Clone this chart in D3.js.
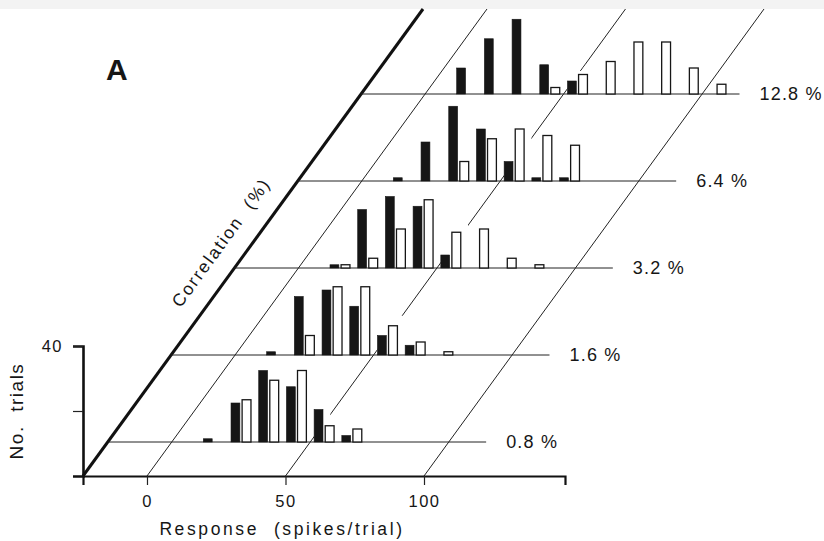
<!DOCTYPE html>
<html>
<head>
<meta charset="utf-8">
<script src="https://cdn.jsdelivr.net/npm/d3@7"></script>
<style>
  html, body { margin: 0; padding: 0; background: #fff; }
  svg { display: block; }
  text { font-family: "Liberation Sans", Arial, Helvetica, sans-serif; fill: #161616; }
</style>
</head>
<body>
<svg id="chart" width="824" height="541"></svg>
<script>
// Spike-count histograms stacked in depth by motion correlation.
// Filled bars: preferred-direction trials; open bars: null-direction trials.

const correlationLabels = ["0.8 %", "1.6 %", "3.2 %", "6.4 %", "12.8 %"];
const binCenters = [15, 25, 35, 45, 55, 65, 75, 85, 95, 105];

// trials per bin, one row per correlation (front to back)
const filledCounts = [
  [1, 12, 22, 17, 10, 2, 0, 0, 0, 0],
  [1, 18, 20, 15, 6, 3, 0, 0, 0, 0],
  [1, 18, 22, 19, 4, 0, 0, 0, 0, 0],
  [1, 12, 23, 16, 6, 1, 1, 0, 0, 0],
  [8, 17, 23, 9, 4, 0, 0, 0, 0, 0]
];
const openCounts = [
  [0, 13, 19, 22, 5, 4, 0, 0, 0, 0],
  [0, 6, 21, 21, 9, 4, 1, 0, 0, 0],
  [1, 3, 12, 21, 11, 12, 3, 1, 0, 0],
  [0, 0, 6, 13, 16, 14, 11, 0, 0, 0],
  [0, 0, 0, 2, 6, 10, 16, 16, 8, 3]
];

const responseTicks = [0, 50, 100];
const countTicks = [20, 40];

const svg = d3.select("#chart");

// faint strip along the top edge of the page
svg.append("rect").attr("x", 0).attr("y", 0).attr("width", 824).attr("height", 9)
  .attr("fill", "#f3f3f3");

// --- geometry -------------------------------------------------------------
const floorY = 476;             // front edge of the floor
const topY = 9;                 // far end of the oblique lines
const shear = 340 / 467;        // horizontal shift per pixel of depth rise
const x = d3.scaleLinear().domain([-23.1, 150.9]).range([83, 565]);
const count = d3.scaleLinear().domain([0, 40]).range([floorY, 346]);
const rise = d3.scaleLinear().domain([0, correlationLabels.length - 1]).range([34, 382]);
const barHeight = v => count(0) - count(v);

const barWidth = 3.2;           // response units
const pairOffset = 2;           // response units from bin centre
const baselineEnd = 113.5;      // response value where each baseline stops
const depthDy = 10, depthDx = depthDy * shear;  // apparent depth of a bar

const px = (v, i) => x(v) + rise(i) * shear;
const baseY = i => floorY - rise(i);

// --- floor grid lines and oblique correlation axis ---------------------------
const grid = svg.append("g");
grid.selectAll("line.grid")
  .data(responseTicks)
  .join("line")
  .attr("class", "grid")
  .attr("x1", d => x(d)).attr("y1", floorY)
  .attr("x2", d => x(d) + (floorY - topY) * shear).attr("y2", topY)
  .attr("stroke", "#222").attr("stroke-width", 1);

grid.append("line")
  .attr("x1", x.range()[0]).attr("y1", floorY)
  .attr("x2", x.range()[0] + (floorY - topY) * shear).attr("y2", topY)
  .attr("stroke", "#111").attr("stroke-width", 3);

// --- histogram panels, drawn back to front ------------------------------------
const panelIdx = d3.range(correlationLabels.length).reverse();

panelIdx.forEach(i => {
  const g = svg.append("g").attr("class", "panel");
  const yb = baseY(i);

  const bars = [];
  binCenters.forEach((c, j) => {
    if (filledCounts[i][j] > 0) bars.push({ v: c - pairOffset, n: filledCounts[i][j], filled: true });
    if (openCounts[i][j] > 0) bars.push({ v: c + pairOffset, n: openCounts[i][j], filled: false });
  });
  bars.forEach(b => {
    b.x0 = px(b.v - barWidth / 2, i);
    b.x1 = px(b.v + barWidth / 2, i);
    b.y = yb - barHeight(b.n);
  });

  // white silhouettes give each bar some depth so the floor lines pass behind it
  g.selectAll("polygon.shadow")
    .data(bars)
    .join("polygon")
    .attr("class", "shadow")
    .attr("points", b => [
      [b.x0, yb], [b.x0, b.y], [b.x0 + depthDx, b.y - depthDy],
      [b.x1 + depthDx, b.y - depthDy], [b.x1 + depthDx, yb - depthDy], [b.x1, yb]
    ].map(p => p.join(",")).join(" "))
    .attr("fill", "#fff");

  // baseline
  g.append("line")
    .attr("x1", x.range()[0] + rise(i) * shear).attr("y1", yb)
    .attr("x2", px(baselineEnd, i)).attr("y2", yb)
    .attr("stroke", "#222").attr("stroke-width", 1);

  // bars
  g.selectAll("rect.bar")
    .data(bars)
    .join("rect")
    .attr("class", "bar")
    .attr("x", b => b.x0)
    .attr("y", b => b.y)
    .attr("width", b => b.x1 - b.x0)
    .attr("height", b => yb - b.y)
    .attr("fill", b => b.filled ? "#161616" : "#fff")
    .attr("stroke", "#161616")
    .attr("stroke-width", b => b.filled ? 0.6 : 1.3);

  // correlation label
  g.append("text")
    .attr("x", px(baselineEnd, i) + 20)
    .attr("y", yb)
    .attr("dy", "0.36em")
    .style("font-size", "18px")
    .attr("letter-spacing", 1.2)
    .text(correlationLabels[i]);
});

// --- axes -----------------------------------------------------------------------
const xAxis = d3.axisBottom(x)
  .tickValues(responseTicks)
  .tickSizeOuter(0)
  .tickSize(9)
  .tickPadding(10);
const gx = svg.append("g").attr("transform", `translate(0,${floorY})`).call(xAxis);
gx.select(".domain").attr("stroke", "#111").attr("stroke-width", 2.2);
gx.selectAll(".tick line").attr("stroke", "#222").attr("stroke-width", 1.2);
gx.selectAll(".tick text")
  .style("font-size", "16.5px").attr("letter-spacing", 1.5).attr("fill", "#161616");

const yAxis = d3.axisLeft(count)
  .tickValues(countTicks)
  .tickFormat(d => d === 40 ? "40" : "")
  .tickSizeOuter(0)
  .tickSize(10)
  .tickPadding(10);
const gy = svg.append("g").attr("transform", `translate(${x.range()[0]},0)`).call(yAxis);
gy.select(".domain").attr("stroke", "#111").attr("stroke-width", 2.6);
gy.selectAll(".tick line").attr("stroke", "#222").attr("stroke-width", 1.2);
gy.selectAll(".tick text")
  .style("font-size", "16.5px").attr("letter-spacing", 1.5).attr("fill", "#161616");

// axis titles
svg.append("text")
  .attr("x", 282).attr("y", 535)
  .attr("text-anchor", "middle")
  .style("font-size", "17.5px")
  .attr("letter-spacing", 2.6)
  .text("Response\u00a0 (spikes/trial)");

svg.append("text")
  .attr("transform", "translate(23,411) rotate(-90)")
  .attr("text-anchor", "middle")
  .style("font-size", "19px")
  .attr("letter-spacing", 1.5)
  .text("No.\u00a0 trials");

const slopeDeg = Math.atan2(floorY - topY, (floorY - topY) * shear) * 180 / Math.PI;
svg.append("text")
  .attr("transform", `translate(226,246) rotate(${-slopeDeg})`)
  .attr("text-anchor", "middle")
  .style("font-size", "17.5px")
  .attr("letter-spacing", 2)
  .text("Correlation\u00a0 (%)");

svg.append("text")
  .attr("x", 106).attr("y", 80)
  .style("font-size", "30px")
  .attr("font-weight", "bold")
  .text("A");
</script>
</body>
</html>
